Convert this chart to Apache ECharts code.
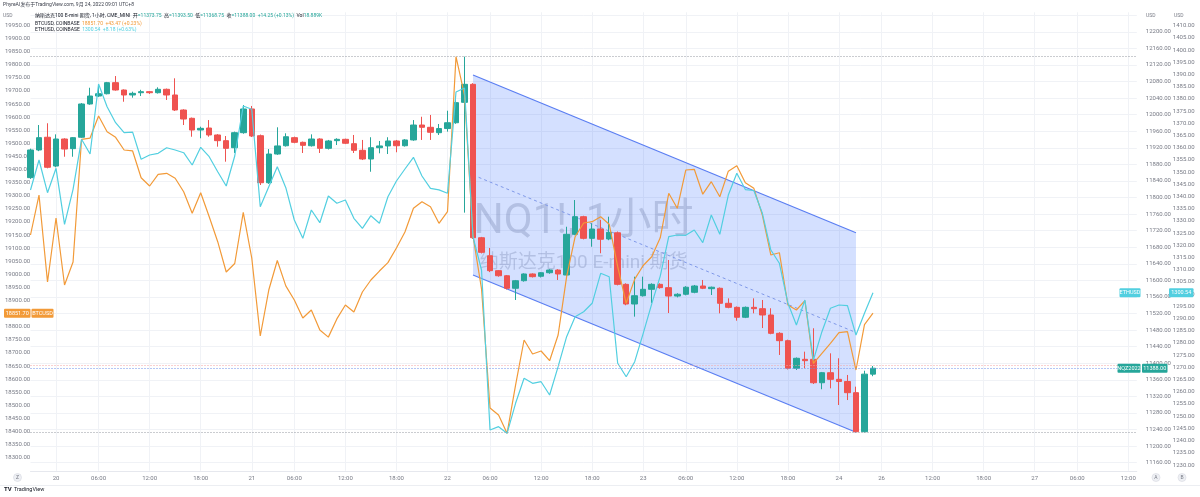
<!DOCTYPE html>
<html><head><meta charset="utf-8">
<script src="https://cdn.jsdelivr.net/npm/echarts@6/dist/echarts.min.js"></script>
<style>html,body{margin:0;padding:0;background:#fff}#c{width:1200px;height:497px}</style>
</head><body><div id="c"></div>
<script>
// ---------- time categories (1h bars, UTC+8) ----------
const sessionDays = ['19','20','21','22','23','24','26','27'];
const sessionHours = [
  [21,22,23],
  [0,1,2,3,4,6,7,8,9,10,11,12,13,14,15,16,17,18,19,20,21,22,23],
  [0,1,2,3,4,6,7,8,9,10,11,12,13,14,15,16,17,18,19,20,21,22,23],
  [0,1,2,3,4,6,7,8,9,10,11,12,13,14,15,16,17,18,19,20,21,22,23],
  [0,1,2,3,4,6,7,8,9,10,11,12,13,14,15,16,17,18,19,20,21,22,23],
  [0,1,2,3,4],
  [6,7,8,9,10,11,12,13,14,15,16,17,18,19,20,21,22,23],
  [0,1,2,3,4,6,7,8,9,10,11,12,13]
];
const categories = [];
sessionDays.forEach((d, k) => sessionHours[k].forEach(h => categories.push(d + ' ' + String(h).padStart(2, '0') + ':00')));

// ---------- NQ1! 1h OHLC ----------
const nqOpen = [11848,11914.75,11945.5,11876,11941.25,11918,11945.5,12025.75,12045,12050.5,
 12077.25,12059.5,12047.5,12053,12055.5,12053,12061.25,12047.5,12011.25,11991.25,
 11963,11967.75,11951,11937.25,11920.25,11956.5,12013.75,11949.25,11835.75,11905,
 11925,11944.5,11933.25,11925,11941.25,11918.75,11937.25,11940.5,11930,11914,
 11893,11920.25,11924.5,11936.5,11925,11939,11975,11969.5,11956.5,11966.5,
 11980.5,12029.75,12073.25,11703,11659.5,11623.5,11611.25,11581,11599.25,11615.5,
 11610,11618.5,11625,11613,11711.25,11753.75,11701.5,11724,11700,11715,
 11590.5,11543,11563,11578.5,11590.5,11582.5,11562.25,11566.5,11571.25,11586.5,
 11580,11581,11544.75,11535,11511,11535,11531.75,11516.5,11472.25,11454.5,
 11388,11409.5,11409.5,11353,11377.25,11361.25,11356,11329,11234.75,11373.75];
const nqClose = [11914.75,11944.5,11873,11941.25,11917,11944.5,12025.75,12045,12050.5,12077.25,
 12059.5,12047.5,12051.5,12055.5,12053,12061.25,12047.5,12011.25,11989.5,11963,
 11967,11951,11937.25,11918.75,11956.5,12013.75,11948.5,11835.75,11905,11924.5,
 11946.75,11933.25,11926,11941.25,11918.75,11936.5,11940.5,11931,11914,11893,
 11920.25,11924.5,11936.5,11925,11939,11975,11969.5,11957.5,11966.5,11980.5,
 12029,12073.25,11703,11667.75,11623.5,11611.25,11581,11599.25,11615.5,11609,
 11618.5,11625,11615.5,11711.25,11753.75,11701.5,11724,11699.25,11716,11590.5,
 11543,11563,11578.5,11590.5,11582.5,11562.25,11566.5,11583.5,11586.5,11581,
 11583.5,11544.75,11535,11511,11535,11531.75,11516.5,11472.25,11454.5,11388,
 11412,11406.25,11353,11377.25,11361.25,11356,11329,11234.75,11373.75,11388];
const nqLow = [11845,11912,11870.5,11873,11898.5,11898.5,11944,12024,12043,12049,
 12058,12031.25,12041,12045,12050,12051,12035.5,12009,11975,11946.75,
 11943,11946.75,11922.75,11886.5,11907.5,11954,11946,11830.25,11833,11903,
 11923,11931,11907.5,11923,11907.5,11916,11926.75,11929,11907.5,11890.5,
 11862.25,11906.75,11905,11909.25,11923,11937,11939,11939,11951,11959,
 11978,11763.5,11700,11665,11620,11609,11578,11552.75,11597,11607,
 11607,11616,11601,11611,11709,11699,11681.25,11665.5,11697,11588,
 11540,11512.5,11561,11545.5,11580,11521.25,11559,11564,11569,11579,
 11564.75,11520.5,11532.75,11502.75,11509,11520.5,11485,11470,11420,11385,
 11383.75,11388,11350,11337.25,11339.5,11299.25,11311.25,11233.5,11233,11368.75];
const nqHigh = [11918,11975,11979.25,11952.5,11943,11946,12028,12065,12073.25,12079,
 12093.25,12061,12055.5,12060,12057,12066,12063,12087.75,12013,11993,
 11971,11987,11953,11948.5,11959,12023.25,12021,11952,11917,11969.5,
 11955,11947,11935,11952.5,11943,11939,11943,11942,11951,11939,
 11945.5,11936.5,11945.5,11939,11941,11987,11995,11999.25,11977.5,12009.5,
 12040,12140,12076,11705,11678.25,11625,11613,11601,11617,11617,
 11620,11627,11627,11729.5,11794,11756,11737.75,11745.75,11753.75,11718,
 11593,11609,11609,11593,11593,11649.25,11569,11586,11589,11601,
 11585,11583,11556.75,11537,11537,11556.75,11552.75,11532.75,11475,11457,
 11414,11428,11484.5,11379,11424,11412,11371.75,11343.5,11382,11393.5];

// ---------- compare series (close per bar) ----------
const btcusd = [19150,19302.6,18970.6,19214.8,18959.1,19046.9,19515.2,19520.1,19604.2,19544.2,
 19522.9,19474.4,19470.8,19368.6,19337.0,19381.6,19385.4,19366.4,19315.2,19232.8,
 19311.4,19219.8,19124.4,19008.7,19041.3,19236.6,19062.2,18764.5,18940.0,19052.6,
 18955.8,18901.9,18833.2,18863.7,18787.4,18760.2,18829.7,18882.8,18856.1,18932.4,
 18978.2,19012.4,19044.5,19100.3,19161.4,19251.9,19277.1,19258.0,19194.6,19238.9,
 19830.5,19684.3,19146.3,18944.6,18489.6,18462.9,18393.1,18577.4,18749.2,18695.8,
 18707.2,18670.2,18768.3,18990.8,19143.5,19195.8,19200.7,19219.8,19191.3,19029.0,
 18889.3,18981.5,19033.5,19067.1,19139.2,19309.1,19251.9,19398.0,19400.7,19305.7,
 19353.4,19296.1,19393.6,19414.5,19349.8,19328.2,19226.3,19073.6,19082.4,18882.8,
 18863.7,18899.2,18660.2,18698.4,18736.6,18777.1,18780.9,18634.7,18808.2,18851.7];
const ethusd = [1342.68,1354.97,1341.57,1351.57,1328.63,1342.97,1363.45,1357.43,1386.11,1376.81,
 1370.26,1366.16,1366.40,1355.26,1357.02,1357.72,1360.01,1359.07,1357.96,1352.92,
 1360.18,1356.32,1350.18,1344.32,1356.61,1377.10,1375.75,1335.84,1344.03,1352.23,
 1343.62,1330.39,1322.89,1334.48,1329.28,1340.22,1337.23,1338.58,1331.08,1326.99,
 1332.15,1329.03,1339.93,1346.37,1351.28,1356.05,1348.42,1343.38,1342.71,1341.33,
 1382.83,1384.47,1323.42,1309.90,1244.34,1245.70,1242.99,1255.28,1265.53,1263.48,
 1264.13,1258.68,1270.28,1282.57,1290.77,1292.81,1296.26,1308.55,1307.15,1271.67,
 1266.18,1272.33,1283.96,1296.02,1307.41,1323.54,1324.24,1324.10,1326.29,1321.09,
 1332.44,1324.53,1340.63,1349.52,1342.85,1342.47,1333.13,1318.09,1312.65,1296.40,
 1287.36,1297.61,1273.02,1284.62,1294.21,1295.56,1295.30,1283.27,1292.16,1300.54];

// ---------- regression channel (bar index, NQ price) ----------
const channelX = [52, 97];
const channelUpper = [12095.7, 11715.1];
const channelLower = [11613.0, 11233.4];
const nqPrevLine = 11394.5;

// ---------- axis ticks ----------
const btcTicks = {min: 18250, max: 20000, step: 50, shownMin: 18300, shownMax: 19950};
const nqTicks = {min: 11160, max: 12240, step: 40, shownMax: 12200};
const ethTicks = {min: 1230, max: 1415, step: 5, shownMax: 1410};

const FONT = "Roboto, 'Noto Sans CJK SC', sans-serif";
const UP = '#26a69a', DOWN = '#ef5350', ORANGE = '#f29a38', CYAN = '#52cfe0';
const LBL = '#787b86', GRIDC = '#f0f2f6';
const gridL = 30.5, gridR = 63.2;

function tickLabel(i) {
  if (i === 0) return '';
  const [d, h] = categories[i].split(' ');
  const pd = categories[i - 1].split(' ')[0];
  if (d !== pd) return d;
  return (parseInt(h, 10) % 6 === 0) ? h : '';
}

const chart = echarts.init(document.getElementById('c'), null, {renderer: 'canvas'});
const hi = Math.max(...nqHigh), lo = Math.min(...nqLow), last = nqClose[nqClose.length - 1];

const option = {
  animation: false,
  textStyle: {fontFamily: FONT},
  grid: [
    {left: gridL, right: gridR, top: 12.3, bottom: 26.2, containLabel: false, outerBoundsMode: 'none'},
    {left: gridL, right: gridR, top: 15.23, bottom: 34.3, containLabel: false, outerBoundsMode: 'none'},
    {left: gridL, right: gridR, top: 13.5, bottom: 32, containLabel: false, outerBoundsMode: 'none'}
  ],
  xAxis: [
    {gridIndex: 0, type: 'category', data: categories, boundaryGap: false,
     axisLine: {show: true, lineStyle: {color: '#e6e8ee'}}, axisTick: {show: false},
     axisLabel: {interval: (i) => tickLabel(i) !== '', formatter: (v, i) => tickLabel(i),
       fontSize: 6, color: LBL, margin: 5, fontFamily: FONT, hideOverlap: false},
     splitLine: {show: true, interval: (i) => tickLabel(i) !== '', lineStyle: {color: GRIDC, width: 1}}},
    {gridIndex: 1, type: 'category', data: categories, boundaryGap: false, show: false},
    {gridIndex: 2, type: 'category', data: categories, boundaryGap: false, show: false}
  ],
  yAxis: [
    {gridIndex: 0, type: 'value', position: 'left', min: btcTicks.min, max: btcTicks.max, interval: btcTicks.step,
     axisLine: {show: false}, axisTick: {show: false}, splitLine: {show: false},
     axisLabel: {align: 'left', margin: gridL - 5, fontSize: 6, color: LBL, fontFamily: FONT,
       formatter: v => (v >= btcTicks.shownMin && v <= btcTicks.shownMax) ? v.toFixed(2) : ''}},
    {gridIndex: 1, type: 'value', position: 'right', min: nqTicks.min, max: nqTicks.max, interval: nqTicks.step,
     axisLine: {show: false}, axisTick: {show: false},
     splitLine: {show: true, lineStyle: {color: GRIDC, width: 1}},
     axisLabel: {margin: 9, fontSize: 6, color: LBL, fontFamily: FONT,
       formatter: v => (v <= nqTicks.shownMax) ? v.toFixed(2) : ''}},
    {gridIndex: 2, type: 'value', position: 'right', offset: 27, min: ethTicks.min, max: ethTicks.max, interval: ethTicks.step,
     axisLine: {show: false}, axisTick: {show: false}, splitLine: {show: false},
     axisLabel: {margin: 9, fontSize: 6, color: LBL, fontFamily: FONT,
       formatter: v => (v <= ethTicks.shownMax) ? v.toFixed(2) : ''}}
  ],
  series: [
    {type: 'custom', xAxisIndex: 1, yAxisIndex: 1, z: 1, silent: true,
     data: [[channelX[0], channelUpper[0]]],
     renderItem: function (params, api) {
       const u0 = api.coord([channelX[0], channelUpper[0]]), u1 = api.coord([channelX[1], channelUpper[1]]);
       const l0 = api.coord([channelX[0], channelLower[0]]), l1 = api.coord([channelX[1], channelLower[1]]);
       const m0 = [u0[0], (u0[1] + l0[1]) / 2], m1 = [u1[0], (u1[1] + l1[1]) / 2];
       return {type: 'group', children: [
         {type: 'polygon', shape: {points: [u0, u1, l1, l0]}, style: {fill: 'rgba(41,98,255,0.2)'}},
         {type: 'line', shape: {x1: u0[0], y1: u0[1], x2: u1[0], y2: u1[1]}, style: {stroke: '#5a7ef2', lineWidth: 1.2}},
         {type: 'line', shape: {x1: l0[0], y1: l0[1], x2: l1[0], y2: l1[1]}, style: {stroke: '#5a7ef2', lineWidth: 1.2}},
         {type: 'line', shape: {x1: m0[0], y1: m0[1], x2: m1[0], y2: m1[1]}, style: {stroke: '#7f98e8', lineWidth: 1, lineDash: [3, 3]}}
       ]};
     }},
    {type: 'candlestick', name: 'NQ1!', xAxisIndex: 1, yAxisIndex: 1, z: 2, barWidth: 6,
     data: nqOpen.map((o, i) => [o, nqClose[i], nqLow[i], nqHigh[i]]),
     itemStyle: {color: UP, color0: DOWN, borderColor: UP, borderColor0: DOWN, borderWidth: 1},
     markLine: {silent: true, symbol: ['none', 'none'], label: {show: false},
       data: [
         {yAxis: hi, lineStyle: {color: '#9598a1', type: [1, 2], width: 1}},
         {yAxis: lo, lineStyle: {color: '#9598a1', type: [1, 2], width: 1}},
         {yAxis: nqPrevLine, lineStyle: {color: '#f3a3a3', type: [1, 2], width: 1}},
         {yAxis: last, lineStyle: {color: '#6a8fe8', type: [1, 2], width: 1}}
       ]}},
    {type: 'line', name: 'BTCUSD', xAxisIndex: 0, yAxisIndex: 0, z: 3, data: btcusd,
     showSymbol: false, symbol: 'none', lineStyle: {color: ORANGE, width: 1.2}},
    {type: 'line', name: 'ETHUSD', xAxisIndex: 2, yAxisIndex: 2, z: 3, data: ethusd,
     showSymbol: false, symbol: 'none', lineStyle: {color: CYAN, width: 1.2}}
  ]
};
chart.setOption(option);

const yBtc = chart.convertToPixel({yAxisIndex: 0}, btcusd[btcusd.length - 1]);
const yEth = chart.convertToPixel({yAxisIndex: 2}, ethusd[ethusd.length - 1]);
const yNq = chart.convertToPixel({yAxisIndex: 1}, last);
const plotRight = 1200 - gridR;
const plotMid = (gridL + plotRight) / 2;

function tag(x, y, w, text, color) {
  return [
    {type: 'rect', z: 100, shape: {x: x, y: y - 4.5, width: w, height: 9, r: 1}, style: {fill: color}},
    {type: 'text', z: 101, x: x + w / 2, y: y, style: {text: text, fill: '#fff', fontSize: 5.5, fontFamily: FONT, align: 'center', verticalAlign: 'middle'}}
  ];
}
function txt(x, y, text, size, color, extra) {
  return Object.assign({type: 'text', z: 100, x: x, y: y, style: Object.assign({text: text, fill: color, fontSize: size, fontFamily: FONT, verticalAlign: 'middle'}, extra || {})});
}
function circ(x, y, letter) {
  return [
    {type: 'circle', z: 100, shape: {cx: x, cy: y, r: 4}, style: {fill: '#eef0f4', stroke: '#d6d9e0', lineWidth: 0.6}},
    {type: 'text', z: 101, x: x, y: y, style: {text: letter, fill: '#787b86', fontSize: 5, fontFamily: FONT, align: 'center', verticalAlign: 'middle'}}
  ];
}
const D = '#131722';
const rs = (c) => ({fill: c, fontSize: 5, fontFamily: FONT});
const graphics = [
  // watermark
  {type: 'text', z: 0, x: plotMid, y: 222, style: {text: 'NQ1!, 1小时', fill: 'rgba(128,132,145,0.32)', fontSize: 42, fontFamily: FONT, align: 'center', verticalAlign: 'middle'}},
  {type: 'text', z: 0, x: plotMid, y: 263, style: {text: '纳斯达克100 E-mini 期货', fill: 'rgba(128,132,145,0.32)', fontSize: 19, fontFamily: FONT, align: 'center', verticalAlign: 'middle'}},
  // header
  txt(3, 5, 'PhyreAI发布于TradingView.com, 9月 24, 2022 09:01 UTC+8', 5, '#3a3e4a'),
  txt(3, 16, 'USD', 5, LBL),
  txt(1146, 16, 'USD', 5, LBL),
  txt(1174, 16, 'USD', 5, LBL),
  {type: 'text', z: 100, x: 35, y: 16, style: {verticalAlign: 'middle',
    text: '{t|纳斯达克100 E-mini 期货, 1小时, CME_MINI  开}{g|=11373.75}{t|  高}{g|=11393.50}{t|  低}{g|=11368.75}{t|  收}{g|=11388.00  +14.25 (+0.13%)}{t|  Vol}{g|18.889K}',
    rich: {t: rs(D), g: rs(UP)}}},
  {type: 'text', z: 100, x: 35, y: 23.3, style: {verticalAlign: 'middle',
    text: '{t|BTCUSD, COINBASE  }{o|18851.70  +43.47 (+0.23%)}', rich: {t: rs(D), o: rs(ORANGE)}}},
  {type: 'text', z: 100, x: 35, y: 29.8, style: {verticalAlign: 'middle',
    text: '{t|ETHUSD, COINBASE  }{c|1300.54  +8.18 (+0.63%)}', rich: {t: rs(D), c: rs(CYAN)}}},
  // bottom
  txt(4, 489.5, 'TV', 6, D, {fontWeight: 'bold'}),
  txt(14, 489.5, 'TradingView', 5.5, D),
  {type: 'line', z: 100, shape: {x1: 0, y1: 485.5, x2: 1200, y2: 485.5}, style: {stroke: '#eceef2', lineWidth: 1}},
  ...circ(17.5, 477.5, 'Z'),
  ...circ(1156, 477.5, 'A'),
  ...circ(1182, 477.5, 'B'),
  // price tags
  ...tag(4, yBtc, 26.5, btcusd[btcusd.length - 1].toFixed(2), ORANGE),
  ...tag(31.5, yBtc, 22, 'BTCUSD', ORANGE),
  ...tag(1119.5, yEth, 21, 'ETHUSD', CYAN),
  ...tag(1169, yEth, 24.5, ethusd[ethusd.length - 1].toFixed(2), CYAN),
  ...tag(1117.5, yNq, 23, 'NQZ2022', UP),
  ...tag(1142, yNq, 25.5, last.toFixed(2), UP)
];
chart.setOption({graphic: graphics});
</script></body></html>
